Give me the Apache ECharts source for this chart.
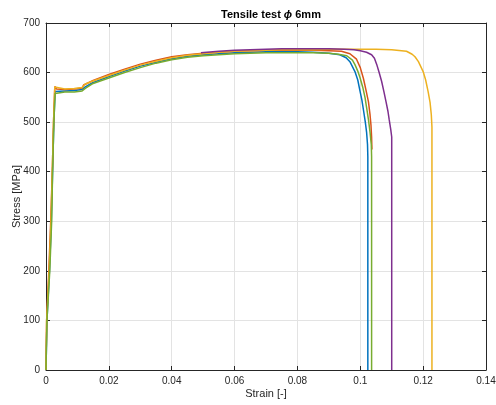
<!DOCTYPE html>
<html>
<head>
<meta charset="utf-8">
<script src="https://cdn.jsdelivr.net/npm/echarts@6/dist/echarts.min.js"></script>
<style>
html,body{margin:0;padding:0;background:#fff;}
#chart{width:496px;height:405px;}
</style>
</head>
<body>
<div id="chart"></div>
<script>
// ---- data: [strain, stress MPa] ----
const sample1 = [ // blue
  [0,0],[0.0003,100],[0.0011,200],[0.0017,300],[0.0021,400],[0.0025,500],[0.0029,562],
  [0.0035,563],[0.006,563],[0.009,564],[0.0115,566],[0.0125,571],[0.013,574],[0.015,580],
  [0.02,592],[0.025,603],[0.03,613],[0.035,621],[0.04,628],[0.045,633],[0.05,636],
  [0.055,638],[0.06,640],[0.065,641],[0.07,642],[0.075,642],[0.08,642],[0.085,641],
  [0.09,639],[0.0935,636],[0.0955,630],[0.0967,622],[0.0983,602],[0.0992,585],
  [0.0999,563],[0.1005,545],[0.101,525],[0.1016,500],[0.102,480],[0.1023,455],
  [0.1024,430],[0.1024,0]
];
const sample2 = [ // orange
  [0,0],[0.0002,100],[0.0009,200],[0.0015,300],[0.002,400],[0.0024,500],[0.0028,572],
  [0.0033,567],[0.006,566],[0.009,567],[0.0115,569],[0.012,575],[0.0125,578],[0.015,584],
  [0.02,596],[0.025,607],[0.03,617],[0.035,625],[0.04,632],[0.045,636],[0.05,639],
  [0.055,641],[0.06,643],[0.065,644],[0.07,645],[0.075,645],[0.08,645],[0.085,645],
  [0.09,644],[0.094,643],[0.0967,638],[0.0988,627],[0.1,610],[0.101,588],[0.1018,565],
  [0.1026,541],[0.1031,515],[0.1034,494],[0.1036,470],[0.1037,445]
];
const sample3 = [ // yellow
  [0,0],[0.0002,100],[0.001,200],[0.0016,300],[0.002,400],[0.0024,500],[0.0028,571],
  [0.0033,568],[0.006,567],[0.009,568],[0.0115,570],[0.012,574],[0.0125,577],[0.015,583],
  [0.02,594],[0.025,605],[0.03,615],[0.035,623],[0.04,630],[0.045,635],[0.05,638],
  [0.055,641],[0.06,643],[0.065,644],[0.07,645],[0.075,646],[0.08,646],[0.085,646],
  [0.09,647],[0.1,647],[0.105,647],[0.11,646],[0.1147,643],[0.1165,637],[0.1174,632],
  [0.1185,622],[0.12,602],[0.1208,585],[0.1216,561],[0.1222,540],[0.1226,515],
  [0.1228,490],[0.1228,0]
];
const sample4 = [ // purple
  [0.0493,640],[0.055,643],[0.06,645],[0.065,646],[0.07,647],[0.075,648],[0.08,648],
  [0.085,648],[0.09,648],[0.095,647],[0.098,646],[0.1,644],[0.102,641],[0.1036,636],
  [0.1045,629],[0.1052,617],[0.106,600],[0.1068,582],[0.1075,562],[0.1082,541],
  [0.1088,522],[0.1092,505],[0.1097,485],[0.11,470],[0.11,0]
];
const sample5 = [ // green
  [0,0],[0.0003,100],[0.0012,200],[0.0018,300],[0.0021,400],[0.0025,500],[0.0029,558],
  [0.0035,561],[0.006,561],[0.009,561],[0.0115,563],[0.0125,568],[0.013,572],[0.015,578],
  [0.02,589],[0.025,600],[0.03,610],[0.035,619],[0.04,626],[0.045,631],[0.05,634],
  [0.055,636],[0.06,638],[0.065,639],[0.07,640],[0.075,640],[0.08,640],[0.085,640],
  [0.09,639],[0.093,637],[0.0957,634],[0.0975,625],[0.0983,616],[0.0992,603],
  [0.0999,590],[0.1008,570],[0.1015,550],[0.102,530],[0.1026,505],[0.1031,480],
  [0.1035,455],[0.1036,430],[0.1036,0]
];
const seriesList = [sample1, sample2, sample3, sample4, sample5];
const colors = ["#0072BD","#D95319","#EDB120","#7E2F8E","#77AC30"];

const font = "Liberation Sans, Arial, Helvetica, sans-serif";
const ink = "#262626";

const chart = echarts.init(document.getElementById("chart"));

function fmtX(v){ return String(parseFloat(v.toFixed(2))); }

const baseAxis = {
  axisLine:{show:true, onZero:false, lineStyle:{color:ink, width:1}},
  axisTick:{show:true, inside:true, length:4, lineStyle:{color:ink}},
  splitLine:{show:false},
  axisLabel:{show:false}
};

chart.setOption({
  backgroundColor:"#fff",
  animation:false,
  title:{
    text:"Tensile test {i|ϕ} 6mm",
    left:266, textAlign:"center", top:4,
    textStyle:{
      fontFamily:font, fontSize:11, fontWeight:"bold", color:"#000",
      rich:{i:{fontFamily:font, fontSize:11, fontWeight:"bold", fontStyle:"italic", color:"#000"}}
    }
  },
  grid:{left:46, right:10, top:23, bottom:35, containLabel:false, outerBoundsMode:"none"},
  xAxis:[
    {
      type:"value", min:0, max:0.14, interval:0.02, position:"bottom",
      name:"Strain [-]", nameLocation:"middle", nameGap:18, nameMoveOverlap:false,
      nameTextStyle:{fontFamily:font, fontSize:11, color:ink},
      axisLine:{show:true, onZero:false, lineStyle:{color:ink, width:1}},
      axisTick:{show:true, inside:true, length:4, lineStyle:{color:ink}},
      axisLabel:{fontFamily:font, fontSize:10, color:ink, margin:6, formatter:fmtX},
      splitLine:{show:true, lineStyle:{color:"#e3e3e3", width:1}}
    },
    Object.assign({type:"value", min:0, max:0.14, interval:0.02, position:"top"}, baseAxis)
  ],
  yAxis:[
    {
      type:"value", min:0, max:700, interval:100, position:"left",
      name:"Stress [MPa]", nameLocation:"middle", nameGap:24, nameMoveOverlap:false,
      nameTextStyle:{fontFamily:font, fontSize:11, color:ink},
      axisLine:{show:true, onZero:false, lineStyle:{color:ink, width:1}},
      axisTick:{show:true, inside:true, length:4, lineStyle:{color:ink}},
      axisLabel:{fontFamily:font, fontSize:10, color:ink, margin:6},
      splitLine:{show:true, lineStyle:{color:"#e3e3e3", width:1}}
    },
    Object.assign({type:"value", min:0, max:700, interval:100, position:"right"}, baseAxis)
  ],
  series: seriesList.map((d, i) => ({
    type:"line",
    data:d,
    xAxisIndex:0, yAxisIndex:0,
    showSymbol:false,
    smooth:false,
    clip:true,
    lineStyle:{color:colors[i], width:1.5},
    itemStyle:{color:colors[i]},
    z:2+i
  }))
});
</script>
</body>
</html>
